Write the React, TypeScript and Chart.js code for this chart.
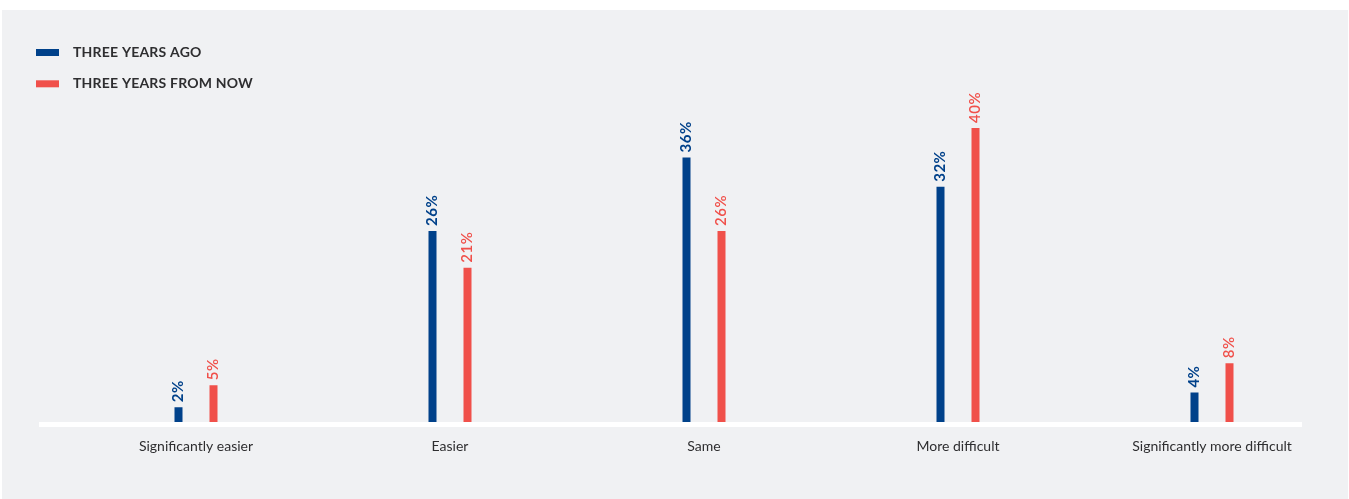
import React, { useEffect, useRef } from "react";
import { Chart, registerables } from "chart.js";

Chart.register(...registerables);

// Survey answers, in percent of respondents
const categories = [
  "Significantly easier",
  "Easier",
  "Same",
  "More difficult",
  "Significantly more difficult",
];
const threeYearsAgo = [2, 26, 36, 32, 4];
const threeYearsFromNow = [5, 21, 26, 40, 8];
const seriesLabels = ["THREE YEARS AGO", "THREE YEARS FROM NOW"];
const seriesColors = ["#00418a", "#f0504a"];

const W = 1349;
const H = 499;
const PANEL = "#f0f1f3";
const TEXT = "#2e2e30";
const FONT = "Lato, 'Open Sans', sans-serif";

// grey card behind the chart
const panelPlugin = {
  id: "panel",
  beforeDraw(chart: Chart) {
    const { ctx } = chart;
    ctx.save();
    ctx.fillStyle = "#ffffff";
    ctx.fillRect(0, 0, chart.width, chart.height);
    ctx.fillStyle = PANEL;
    ctx.fillRect(2, 10, chart.width - 3, chart.height - 10);
    ctx.restore();
  },
};

// white base line under the bars
const baselinePlugin = {
  id: "baseline",
  beforeDatasetsDraw(chart: Chart) {
    const { ctx, chartArea } = chart;
    ctx.save();
    ctx.fillStyle = "#ffffff";
    ctx.fillRect(39, chartArea.bottom, 1302 - 39, 5);
    ctx.restore();
  },
};

// rotated percentage labels above each bar
const valueLabelPlugin = {
  id: "valueLabels",
  afterDatasetsDraw(chart: Chart) {
    const { ctx } = chart;
    chart.data.datasets.forEach((ds: any, di: number) => {
      const meta = chart.getDatasetMeta(di);
      meta.data.forEach((el: any, i: number) => {
        const v = ds.data[i] as number;
        ctx.save();
        ctx.translate(el.x, el.y - 5);
        ctx.rotate(-Math.PI / 2);
        ctx.fillStyle = seriesColors[di];
        ctx.font = `${di === 0 ? "bold" : "600"} 15px ${FONT}`;
        (ctx as any).letterSpacing = "0.5px";
        ctx.textAlign = "left";
        ctx.textBaseline = "middle";
        ctx.fillText(`${v}%`, 0, 0);
        ctx.restore();
      });
    });
  },
};

// legend stacked in the top-left corner
const legendPlugin = {
  id: "stackedLegend",
  afterDraw(chart: Chart) {
    const { ctx } = chart;
    chart.data.datasets.forEach((ds: any, di: number) => {
      const y = 49 + di * 31.3;
      ctx.save();
      ctx.fillStyle = seriesColors[di];
      ctx.fillRect(36, y, 23, 7);
      ctx.fillStyle = TEXT;
      ctx.font = `bold 14px ${FONT}`;
      (ctx as any).letterSpacing = "0.2px";
      ctx.textAlign = "left";
      ctx.textBaseline = "middle";
      ctx.fillText(ds.label, 73, y + 3.5);
      ctx.restore();
    });
  },
};

export default function App() {
  const canvasRef = useRef<HTMLCanvasElement | null>(null);

  useEffect(() => {
    const canvas = canvasRef.current;
    if (!canvas) return;
    const chart = new Chart(canvas, {
      type: "bar",
      data: {
        labels: categories,
        datasets: [
          {
            label: seriesLabels[0],
            data: threeYearsAgo,
            backgroundColor: seriesColors[0],
            categoryPercentage: 0.2756,
            barPercentage: 0.2286,
          },
          {
            label: seriesLabels[1],
            data: threeYearsFromNow,
            backgroundColor: seriesColors[1],
            categoryPercentage: 0.2756,
            barPercentage: 0.2286,
          },
        ],
      },
      options: {
        responsive: false,
        animation: false,
        devicePixelRatio: 1,
        layout: { padding: { left: 69, right: 10, top: 54.5, bottom: 28.2 } },
        plugins: {
          legend: { display: false },
          tooltip: { enabled: false },
        },
        scales: {
          x: {
            grid: { display: false, drawTicks: false },
            border: { display: false },
            ticks: {
              color: TEXT,
              font: { family: FONT, size: 14 },
              padding: 16,
              maxRotation: 0,
              autoSkip: false,
            },
          },
          y: {
            display: false,
            min: 0,
            max: 50,
          },
        },
      },
      plugins: [panelPlugin, baselinePlugin, valueLabelPlugin, legendPlugin],
    });
    return () => chart.destroy();
  }, []);

  return (
    <div style={{ position: "fixed", left: 0, top: 0, width: W, height: H, background: "#fff" }}>
      <canvas ref={canvasRef} width={W} height={H} style={{ display: "block", width: W, height: H }} />
    </div>
  );
}
